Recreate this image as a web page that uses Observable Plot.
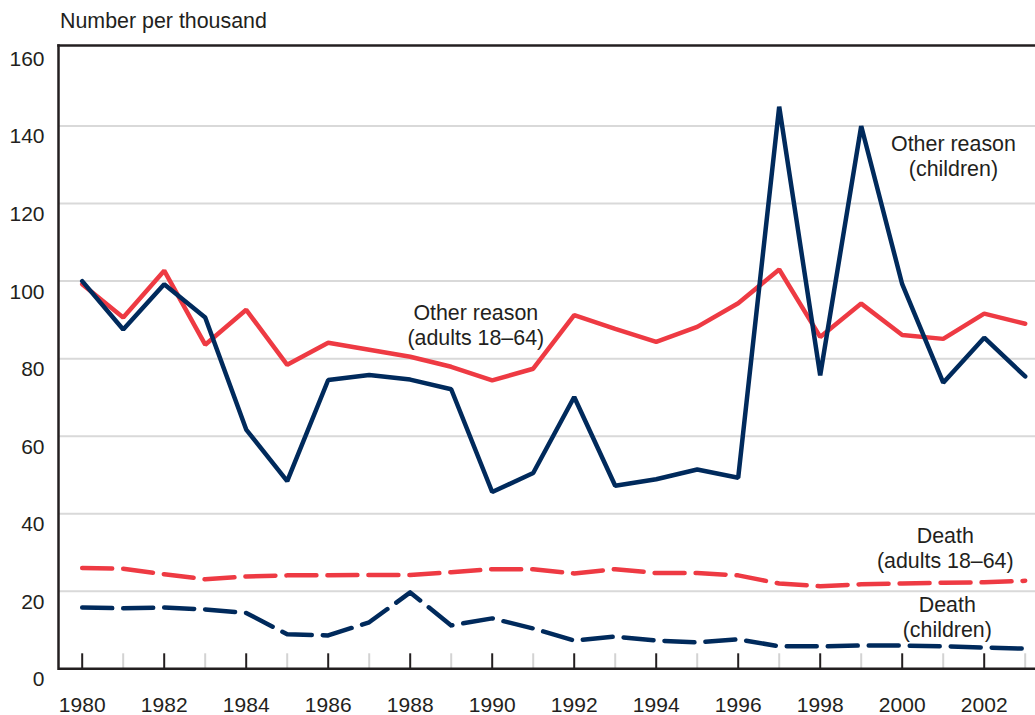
<!DOCTYPE html>
<html><head><meta charset="utf-8">
<script src="https://cdn.jsdelivr.net/npm/d3@7"></script>
<script src="https://cdn.jsdelivr.net/npm/@observablehq/plot@0.6"></script>
<style>
body{margin:0;background:#fff;}
#chart{width:1035px;height:715px;}
</style></head><body><div id="chart"></div>
<script>
const years = d3.range(1980, 2004);
const childOther = [100, 87.5, 99.2, 90.6, 61.7, 48.4, 74.5, 75.8, 74.6, 72.1, 45.6, 50.5, 70.1, 47.2, 48.9, 51.4, 49.3, 145, 75.7, 140, 99.2, 73.8, 85.4, 75.4];
const adultOther = [99.2, 90.6, 102.7, 83.6, 92.6, 78.4, 84.1, 82.3, 80.5, 77.9, 74.4, 77.4, 91.2, 87.7, 84.3, 88.2, 94.3, 103, 85.6, 94.2, 86.1, 85.1, 91.6, 89];
const adultDeath = [26, 25.8, 24.4, 23.1, 23.8, 24.1, 24.1, 24.2, 24.2, 24.9, 25.7, 25.7, 24.6, 25.7, 24.7, 24.7, 24.1, 22, 21.3, 21.8, 22, 22.2, 22.3, 22.7];
const childDeath = [15.8, 15.6, 15.8, 15.3, 14.4, 8.9, 8.6, 12, 19.7, 11.2, 13, 10.4, 7.3, 8.3, 7.3, 6.8, 7.6, 5.8, 5.8, 6, 6, 5.8, 5.5, 5.2];
const yTicks = [0, 20, 40, 60, 80, 100, 120, 140, 160];
const gridTicks = [20, 40, 60, 80, 100, 120, 140];
const majorYears = years.filter(y => y % 2 === 0);
const minorYears = years.filter(y => y % 2 === 1);
const labelText = ["Other reason\n(children)", "Other reason\n(adults 18–64)", "Death\n(adults 18–64)", "Death\n(children)"];
const labelYear = [2001.25, 1989.6, 2001.05, 2001.1];
const labelValue = [132.5, 88.9, 31.4, 13.6];

const NAVY = "#002a5c", RED = "#ee3a43", INK = "#231f20";
const toRows = vals => years.map((yr, i) => ({year: yr, value: vals[i]}));
const labels = labelText.map((t, i) => ({text: t, year: labelYear[i], value: labelValue[i]}));
const FONT = "'Liberation Sans', Arial, Helvetica, sans-serif";

const plot = Plot.plot({
  width: 1035, height: 715,
  marginLeft: 58, marginRight: 0, marginTop: 45, marginBottom: 46.7,
  style: {fontFamily: FONT, color: INK, background: "#fff"},
  x: {domain: [1980, 2003], insetLeft: 23.7, insetRight: 10.3},
  y: {domain: [0, 160], insetTop: 3},
  marks: [
    Plot.ruleY(gridTicks, {stroke: "#d9d9d9", strokeWidth: 2}),
    Plot.tickX(minorYears, {x: d => d, stroke: "#d3d3d3", strokeWidth: 2, insetTop: 608.3}),
    Plot.tickX(majorYears, {x: d => d, stroke: INK, strokeWidth: 2, insetTop: 608.3}),
    Plot.ruleY([0], {stroke: INK, strokeWidth: 2.5}),
    Plot.frame({anchor: "top", stroke: INK, strokeWidth: 2.5}),
    Plot.frame({anchor: "left", stroke: INK, strokeWidth: 2.5}),
    Plot.axisY({ticks: yTicks, tickSize: 0, tickPadding: 14, dy: 10.7, fontSize: 21, tickFormat: d => String(d), label: null}),
    Plot.axisX({ticks: majorYears, tickSize: 0, tickPadding: 28.5, fontSize: 21, tickFormat: d => String(d), label: null}),
    Plot.text(["Number per thousand"], {frameAnchor: "top-left", dx: 1.5, dy: -24.3, textAnchor: "start", lineAnchor: "middle", fontSize: 21.4, fill: INK}),
    Plot.line(toRows(adultDeath), {x: "year", y: "value", stroke: RED, strokeWidth: 4.5, strokeDasharray: "30,11", strokeLinecap: "round", strokeLinejoin: "round"}),
    Plot.line(toRows(adultOther), {x: "year", y: "value", stroke: RED, strokeWidth: 4.5, strokeLinejoin: "miter"}),
    Plot.line(toRows(childDeath), {x: "year", y: "value", stroke: NAVY, strokeWidth: 4.5, strokeDasharray: "30,11", strokeLinecap: "round", strokeLinejoin: "round"}),
    Plot.line(toRows(childOther), {x: "year", y: "value", stroke: NAVY, strokeWidth: 4.5, strokeLinejoin: "miter"}),
    Plot.text(labels, {x: "year", y: "value", text: "text", fontSize: 21.4, lineHeight: 1.18, textAnchor: "middle", fill: INK})
  ]
});
document.getElementById("chart").append(plot);
</script></body></html>
